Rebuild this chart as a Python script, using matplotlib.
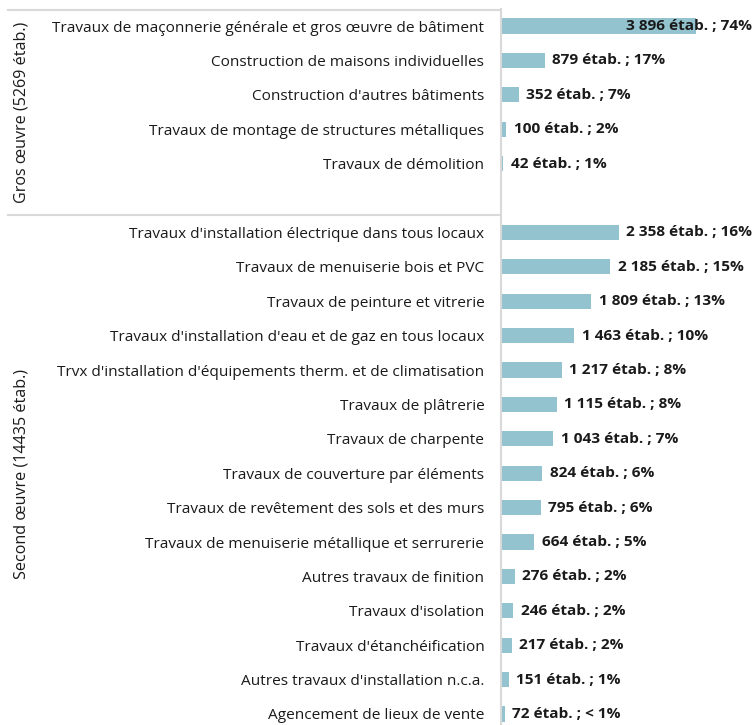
import matplotlib
matplotlib.use("Agg")
import matplotlib.pyplot as plt

plt.rcParams['font.family'] = ['Open Sans', 'DejaVu Sans']

groups = ["Gros œuvre (5269 étab.)", "Second œuvre (14435 étab.)"]
cats_gros = [
    "Travaux de maçonnerie générale et gros œuvre de bâtiment",
    "Construction de maisons individuelles",
    "Construction d'autres bâtiments",
    "Travaux de montage de structures métalliques",
    "Travaux de démolition",
]
vals_gros = [3896, 879, 352, 100, 42]
pct_gros = ["74%", "17%", "7%", "2%", "1%"]

cats_second = [
    "Travaux d'installation électrique dans tous locaux",
    "Travaux de menuiserie bois et PVC",
    "Travaux de peinture et vitrerie",
    "Travaux d'installation d'eau et de gaz en tous locaux",
    "Trvx d'installation d'équipements therm. et de climatisation",
    "Travaux de plâtrerie",
    "Travaux de charpente",
    "Travaux de couverture par éléments",
    "Travaux de revêtement des sols et des murs",
    "Travaux de menuiserie métallique et serrurerie",
    "Autres travaux de finition",
    "Travaux d'isolation",
    "Travaux d'étanchéification",
    "Autres travaux d'installation n.c.a.",
    "Agencement de lieux de vente",
]
vals_second = [2358, 2185, 1809, 1463, 1217, 1115, 1043, 824, 795, 664, 276, 246, 217, 151, 72]
pct_second = ["16%", "15%", "13%", "10%", "8%", "8%", "7%", "6%", "6%", "5%", "2%", "2%", "2%", "1%", "< 1%"]

BAR = "#93c3cf"
SEP = "#d9d9d9"
FS = 11.1

W, H = 754, 725
fig = plt.figure(figsize=(W / 100, H / 100), dpi=100)
ax_left = 501 / W
ax_top = 1 - 8.8 / H
ax = fig.add_axes([ax_left, 0, 1 - ax_left, ax_top])

cats = cats_gros + [""] + cats_second
vals = vals_gros + [None] + vals_second
pcts = pct_gros + [""] + pct_second
ypos = list(range(len(cats)))

bar_y = [y for y, v in zip(ypos, vals) if v is not None]
bar_v = [v for v in vals if v is not None]
ax.barh(bar_y, bar_v, height=0.44, color=BAR)

xmax = 253 / 0.05
ax.set_xlim(0, xmax)
ax.set_ylim((H - 26) / 34.4, -0.5)

ax.set_yticks(ypos)
ax.set_yticklabels(cats, fontsize=FS, color="#1a1a1a")
ax.tick_params(axis='y', length=0, pad=12)
ax.set_xticks([])
for s in ["top", "right", "bottom"]:
    ax.spines[s].set_visible(False)
ax.spines["left"].set_color(SEP)
ax.spines["left"].set_linewidth(1.5)

def fmt(v):
    return f"{v:,}".replace(",", " ")

for y, v, p in zip(ypos, vals, pcts):
    if v is None:
        continue
    label = f"{fmt(v)} étab. ; {p}"
    t = ax.text(v + 150, y, label, va="center", ha="left", fontsize=FS,
                fontweight="bold", color="#1a1a1a")
    if v > 3000:
        t.set_ha("right")
        t.set_x(xmax - 40)

def fy(py):
    return 1 - py / H

for py in [9.5, 215]:
    fig.add_artist(plt.Line2D([8 / W, ax_left], [fy(py), fy(py)], color=SEP, lw=1.5))

fig.text(22 / W, fy(112), groups[0], rotation=90, ha="center", va="center",
         fontsize=11.6, color="#1a1a1a")
fig.text(22 / W, fy(474), groups[1], rotation=90, ha="center", va="center",
         fontsize=11.6, color="#1a1a1a")

fig.savefig("out.png", dpi=100)
